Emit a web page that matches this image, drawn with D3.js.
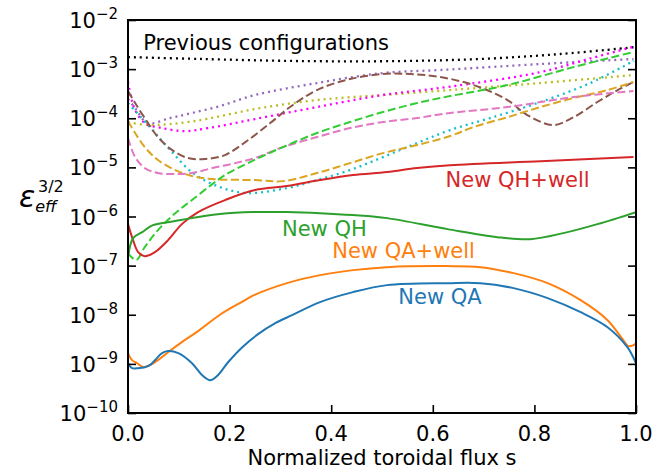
<!DOCTYPE html>
<html>
<head>
<meta charset="utf-8">
<script src="https://cdn.jsdelivr.net/npm/d3@7"></script>
<style>
  body { margin: 0; background: #fff; }
  text { font-family: "DejaVu Sans", sans-serif; }
</style>
</head>
<body>
<div id="chart"></div>
<script>
// values: [s, eps_eff^(3/2)]
const prevConfig = [[0, 1.76e-3], [0.142, 1.61e-3], [0.339, 1.46e-3], [0.536, 1.46e-3], [0.694, 1.61e-3], [0.851, 2.03e-3], [1.0, 2.82e-3]];
const purpleDot = [[0, 2.46e-4], [0.014, 1.61e-4], [0.039, 7.98e-5], [0.083, 1.01e-4], [0.126, 1.28e-4], [0.181, 1.77e-4], [0.250, 2.97e-4], [0.372, 5.21e-4], [0.502, 8.33e-4], [0.615, 9.6e-4], [0.812, 1.27e-3], [0.995, 1.61e-3]];
const magentaDot = [[0, 5.46e-4], [0.006, 2.7e-4], [0.014, 1.47e-4], [0.033, 7.98e-5], [0.067, 6.3e-5], [0.112, 5.48e-5], [0.158, 6.3e-5], [0.250, 9.64e-5], [0.372, 1.69e-4], [0.502, 2.97e-4], [0.634, 4.4e-4], [0.812, 8.7e-4], [0.910, 1.65e-3], [1.0, 2.95e-3]];
const oliveDot = [[0, 8.38e-5], [0.039, 7.28e-5], [0.126, 8.6e-5], [0.250, 1.54e-4], [0.372, 2.35e-4], [0.502, 2.97e-4], [0.634, 3.75e-4], [0.812, 5.21e-4], [0.995, 7.58e-4]];
const cyanDot = [[0, 2.04e-4], [0.043, 6.62e-5], [0.083, 2.25e-5], [0.128, 7.66e-6], [0.181, 3.97e-6], [0.234, 3.0e-6], [0.313, 3.79e-6], [0.372, 5.51e-6], [0.437, 8.81e-6], [0.502, 1.62e-5], [0.569, 3.13e-5], [0.634, 5.75e-5], [0.713, 1.01e-4], [0.812, 2.14e-4], [0.910, 5.21e-4], [0.995, 1.46e-3]];
const brownDash = [[0, 3.58e-4], [0.014, 2.04e-4], [0.033, 1.01e-4], [0.059, 4.14e-5], [0.087, 2.25e-5], [0.118, 1.55e-5], [0.152, 1.48e-5], [0.191, 1.78e-5], [0.231, 3.27e-5], [0.280, 7.98e-5], [0.319, 1.69e-4], [0.372, 3.75e-4], [0.437, 6.28e-4], [0.502, 7.95e-4], [0.556, 7.95e-4], [0.615, 6.9e-4], [0.680, 4.74e-4], [0.747, 2.35e-4], [0.786, 1.16e-4], [0.837, 7.28e-5], [0.877, 1.05e-4], [0.924, 2.14e-4], [0.964, 3.75e-4], [0.995, 5.46e-4]];
const goldDash = [[0, 8.77e-5], [0.014, 5.0e-5], [0.033, 2.59e-5], [0.059, 1.41e-5], [0.093, 8.81e-6], [0.126, 6.65e-6], [0.166, 5.78e-6], [0.250, 5.51e-6], [0.305, 5.25e-6], [0.372, 7.66e-6], [0.437, 1.22e-5], [0.502, 1.95e-5], [0.569, 2.85e-5], [0.634, 4.34e-5], [0.680, 6.62e-5], [0.747, 1.05e-4], [0.812, 1.69e-4], [0.877, 2.58e-4], [0.944, 3.75e-4], [0.995, 5.46e-4]];
const pinkDash = [[0, 3.95e-5], [0.014, 1.62e-5], [0.033, 9.68e-6], [0.059, 7.66e-6], [0.093, 7.31e-6], [0.126, 7.66e-6], [0.166, 9.68e-6], [0.211, 1.22e-5], [0.250, 1.55e-5], [0.305, 2.59e-5], [0.372, 4.14e-5], [0.437, 6.31e-5], [0.502, 8.38e-5], [0.569, 1.01e-4], [0.634, 1.28e-4], [0.747, 1.69e-4], [0.877, 2.7e-4], [0.995, 3.58e-4]];
const limeDash = [[0, 1.8e-7], [0.016, 1.3e-7], [0.033, 2.38e-7], [0.059, 5.28e-7], [0.093, 1.17e-6], [0.126, 2.16e-6], [0.166, 4.57e-6], [0.191, 6.97e-6], [0.240, 1.28e-5], [0.305, 2.59e-5], [0.372, 5.0e-5], [0.437, 8.38e-5], [0.502, 1.34e-4], [0.569, 2.04e-4], [0.634, 2.83e-4], [0.747, 4.74e-4], [0.877, 1.1e-3], [0.995, 2.23e-3]];
const newQHwell = [[0, 7.0e-7], [0.010, 3.3e-7], [0.020, 1.88e-7], [0.033, 1.56e-7], [0.053, 1.88e-7], [0.079, 3.3e-7], [0.106, 7.0e-7], [0.138, 1.23e-6], [0.191, 2.16e-6], [0.250, 3.45e-6], [0.313, 4.16e-6], [0.378, 5.51e-6], [0.443, 6.97e-6], [0.510, 8.02e-6], [0.569, 9.68e-6], [0.634, 1.11e-5], [0.812, 1.34e-5], [0.995, 1.62e-5]];
const newQH = [[0, 1.42e-7], [0.010, 3.63e-7], [0.028, 4.81e-7], [0.049, 6.68e-7], [0.093, 8.06e-7], [0.126, 9.27e-7], [0.181, 1.12e-6], [0.246, 1.23e-6], [0.313, 1.23e-6], [0.378, 1.17e-6], [0.443, 1.07e-6], [0.510, 9.27e-7], [0.629, 5.53e-7], [0.727, 3.8e-7], [0.792, 3.46e-7], [0.857, 4.59e-7], [0.924, 7.0e-7], [1.0, 1.23e-6]];
const newQAwell = [[0, 1.65e-9], [0.008, 1.19e-9], [0.018, 1.03e-9], [0.030, 8.57e-10], [0.043, 9.41e-10], [0.059, 1.19e-9], [0.079, 1.73e-9], [0.106, 2.77e-9], [0.138, 4.64e-9], [0.181, 1.0e-8], [0.225, 1.85e-8], [0.246, 2.45e-8], [0.313, 4.4e-8], [0.378, 6.41e-8], [0.443, 8.1e-8], [0.510, 9.31e-8], [0.629, 9.77e-8], [0.694, 9.31e-8], [0.759, 7.03e-8], [0.826, 4.4e-8], [0.891, 1.98e-8], [0.944, 7.76e-9], [0.975, 3.04e-9], [0.985, 2.29e-9], [0.995, 2.4e-9], [1.0, 2.64e-9]];
const newQA = [[0, 1.03e-9], [0.008, 8.18e-10], [0.020, 8.18e-10], [0.033, 8.57e-10], [0.043, 9.41e-10], [0.053, 1.19e-9], [0.067, 1.65e-9], [0.079, 1.82e-9], [0.099, 1.65e-9], [0.126, 1.03e-9], [0.146, 5.89e-10], [0.162, 4.66e-10], [0.177, 5.89e-10], [0.197, 1.08e-9], [0.225, 2.19e-9], [0.256, 4.03e-9], [0.290, 6.74e-9], [0.323, 9.82e-9], [0.378, 1.81e-8], [0.443, 2.89e-8], [0.510, 4.01e-8], [0.629, 4.4e-8], [0.694, 4.4e-8], [0.759, 3.48e-8], [0.826, 2.18e-8], [0.891, 1.13e-8], [0.944, 5.58e-9], [0.983, 2.19e-9], [1.0, 1.03e-9]];

const xTicks = [0, 0.2, 0.4, 0.6, 0.8, 1.0];
const yExponents = [-10, -9, -8, -7, -6, -5, -4, -3, -2];

const labels = [
    {text: "Previous configurations", s: 0.03, v: 2.45e-3, color: "#000"},
    {text: "New QH+well", s: 0.625, v: 4.0e-6, color: "#d62728"},
    {text: "New QH", s: 0.303, v: 4.0e-7, color: "#2ca02c"},
    {text: "New QA+well", s: 0.402, v: 1.42e-7, color: "#ff7f0e"},
    {text: "New QA", s: 0.532, v: 1.66e-8, color: "#1f77b4"}
];

const series = [
    {data: prevConfig, color: "#000000", dash: "2,4"},
    {data: purpleDot, color: "#9467bd", dash: "2,4"},
    {data: oliveDot, color: "#bcbd22", dash: "2,4"},
    {data: magentaDot, color: "#ff00ff", dash: "2,4"},
    {data: cyanDot, color: "#17becf", dash: "2,4"},
    {data: brownDash, color: "#8c564b", dash: "8,3.5"},
    {data: goldDash, color: "#daa520", dash: "8,3.5"},
    {data: pinkDash, color: "#e377c2", dash: "8,3.5"},
    {data: limeDash, color: "#32cd32", dash: "8,3.5"},
    {data: newQHwell, color: "#d62728", dash: null},
    {data: newQH, color: "#2ca02c", dash: null},
    {data: newQAwell, color: "#ff7f0e", dash: null},
    {data: newQA, color: "#1f77b4", dash: null}
];

const width = 654, height = 470;
const margin = {left: 128, top: 20, right: 18, bottom: 57};

const svg = d3.select("#chart").append("svg")
    .attr("width", width)
    .attr("height", height);

const x = d3.scaleLinear().domain([0, 1]).range([margin.left, width - margin.right]);
const y = d3.scaleLog().domain([1e-10, 1e-2]).range([height - margin.bottom, margin.top]);

svg.append("clipPath").attr("id", "plot")
    .append("rect")
    .attr("x", x(0)).attr("y", y(1e-2))
    .attr("width", x(1) - x(0)).attr("height", y(1e-10) - y(1e-2));

const line = d3.line()
    .x(d => x(d[0]))
    .y(d => y(d[1]))
    .curve(d3.curveCatmullRom.alpha(0.5));

const curves = svg.append("g").attr("clip-path", "url(#plot)");
series.forEach(function (sr) {
    curves.append("path")
        .datum(sr.data)
        .attr("fill", "none")
        .attr("stroke", sr.color)
        .attr("stroke-width", sr.dash == "2,4" ? 2.3 : 2)
        .attr("stroke-dasharray", sr.dash)
        .attr("d", line);
});

// axes with inward ticks
const decades = yExponents.map(e => Math.pow(10, e));
svg.append("g")
    .attr("transform", `translate(0,${y(1e-10)})`)
    .call(d3.axisBottom(x).tickValues(xTicks).tickSize(-8).tickFormat(""))
    .call(g => g.select(".domain").remove())
    .selectAll("line").attr("stroke", "#000").attr("stroke-width", 1.6);

svg.append("g")
    .attr("transform", `translate(${x(0)},0)`)
    .call(d3.axisLeft(y).tickValues(decades).tickSize(-8).tickFormat(""))
    .call(g => g.select(".domain").remove())
    .selectAll("line").attr("stroke", "#000").attr("stroke-width", 1.6);

svg.append("g")
    .attr("transform", `translate(${x(1)},0)`)
    .call(d3.axisRight(y).tickValues(decades).tickSize(-8).tickFormat(""))
    .call(g => g.select(".domain").remove())
    .selectAll("line").attr("stroke", "#000").attr("stroke-width", 1.6);

svg.append("rect")
    .attr("x", x(0)).attr("y", y(1e-2))
    .attr("width", x(1) - x(0)).attr("height", y(1e-10) - y(1e-2))
    .attr("fill", "none").attr("stroke", "#000").attr("stroke-width", 2);

// tick labels
svg.append("g").selectAll("text")
    .data(xTicks)
    .join("text")
    .attr("x", d => x(d))
    .attr("y", y(1e-10) + 28)
    .attr("text-anchor", "middle")
    .attr("font-size", 21)
    .text(d => d.toFixed(1));

const yl = svg.append("g").selectAll("text")
    .data(yExponents)
    .join("text")
    .attr("x", x(0) - 10)
    .attr("y", d => y(Math.pow(10, d)) + 8)
    .attr("text-anchor", "end")
    .attr("font-size", 21);
yl.append("tspan").text("10");
yl.append("tspan").attr("dy", -9).attr("font-size", 15).text(d => "\u2212" + Math.abs(d));

// axis titles
svg.append("text")
    .attr("x", (x(0) + x(1)) / 2)
    .attr("y", 465)
    .attr("text-anchor", "middle")
    .attr("font-size", 21)
    .text("Normalized toroidal flux s");

const yt = svg.append("text")
    .attr("x", 19)
    .attr("y", 207)
    .attr("font-style", "italic");
yt.append("tspan").attr("font-size", 30).text("\u03b5");
yt.append("tspan").attr("font-size", 16).attr("dy", 5).text("eff");
yt.append("tspan").attr("font-size", 16).attr("font-style", "normal")
    .attr("x", 38).attr("dy", -20).text("3/2");

// curve annotations
svg.append("g").selectAll("text")
    .data(labels)
    .join("text")
    .attr("x", d => x(d.s))
    .attr("y", d => y(d.v))
    .attr("font-size", 21)
    .attr("fill", d => d.color)
    .text(d => d.text);
</script>
</body>
</html>
